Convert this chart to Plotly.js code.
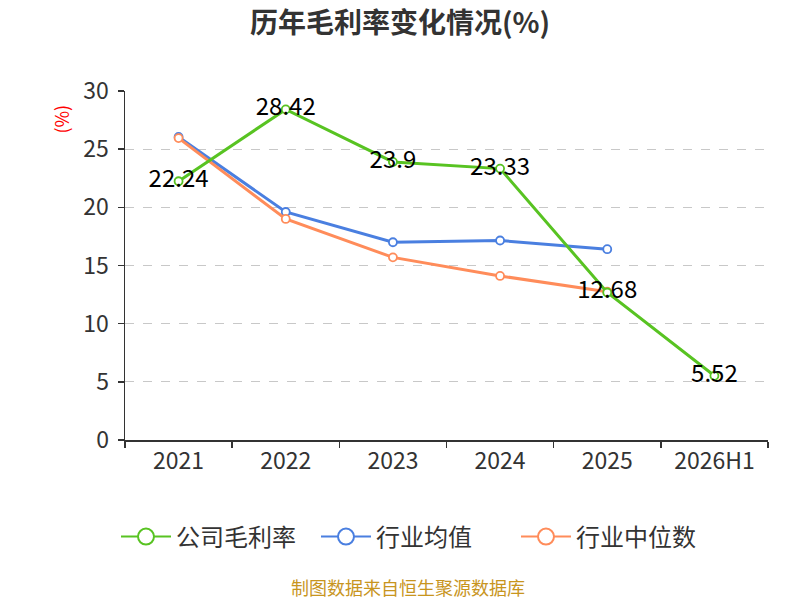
<!DOCTYPE html>
<html><head><meta charset="utf-8">
<script src="https://cdn.plot.ly/plotly-3.0.1.min.js"></script>
<style>html,body{margin:0;padding:0;background:#fff}#c{width:800px;height:600px}</style>
</head><body><div id="c"></div>
<script>
const categories = ["2021","2022","2023","2024","2025","2026H1"];
const companyGM = [22.24, 28.42, 23.9, 23.33, 12.68, 5.52];
const industryAvg = [26.05, 19.6, 17.0, 17.15, 16.4];
const industryMedian = [25.95, 19.0, 15.7, 14.1, 12.75];
const seriesNames = ["公司毛利率","行业均值","行业中位数"];
const colors = ['#58c322','#4a7fe0','#ff8c5a'];
const fontFam = '"Noto Sans CJK SC", "Noto Sans", sans-serif';

function tr(name, y, color, labels) {
  const t = {
    type:'scatter', mode: labels ? 'lines+markers+text' : 'lines+markers',
    name:name, x:categories.slice(0,y.length), y:y, showlegend:false,
    line:{color:color, width:3},
    marker:{symbol:'circle', size:8, color:'#fff', line:{color:color, width:1.8}},
    cliponaxis:false
  };
  if (labels) {
    t.text = y.map(v=>String(v));
    t.textposition = 'middle center';
    t.textfont = {family:fontFam, size:24, color:'#000'};
  }
  return t;
}
function legTr(name, color, rank) {
  return {type:'scatter', mode:'lines+markers', name:name, x:[null], y:[null], legendrank:rank,
    line:{color:color, width:2}, marker:{symbol:'circle', size:16, color:'#fff', line:{color:color, width:2}}};
}
const data = [
  tr(seriesNames[1], industryAvg, colors[1], false),
  tr(seriesNames[2], industryMedian, colors[2], false),
  tr(seriesNames[0], companyGM, colors[0], true),
  legTr(seriesNames[0], colors[0], 1),
  legTr(seriesNames[1], colors[1], 2),
  legTr(seriesNames[2], colors[2], 3)
];

const layout = {
  width:800, height:600,
  margin:{l:125, r:32, t:91, b:160},
  paper_bgcolor:'#fff', plot_bgcolor:'#fff',
  font:{family:fontFam, color:'#333'},
  title:{text:'<b>历年毛利率变化情况(%)</b>', x:0.5, xanchor:'center', y:0.962, yanchor:'middle',
         font:{family:fontFam, size:28, color:'#333'}},
  xaxis:{type:'category', range:[-0.5,5.5], tickson:'boundaries', ticks:'outside', ticklen:6,
         tickcolor:'#333', tickwidth:1.5, showline:true, linecolor:'#333', linewidth:1.5,
         showgrid:false, zeroline:false, tickfont:{size:23, color:'#333'}, fixedrange:true},
  yaxis:{range:[0,30], dtick:5, ticks:'outside', ticklen:6, tickcolor:'#333', tickwidth:1.5,
         showline:true, linecolor:'#333', linewidth:1.5, gridcolor:'#c8c8c8', griddash:'dash',
         gridwidth:1.2, zeroline:false, tickfont:{size:23, color:'#333'}, ticklabelstandoff:4},
  showlegend:true,
  legend:{orientation:'h', x:-0.014, xanchor:'left', y:-0.278, yanchor:'middle',
          font:{family:fontFam, size:24, color:'#333'}, itemwidth:50, entrywidth:135,
          traceorder:'normal'},
  annotations:[
    {text:'(%)', xref:'paper', yref:'paper', x:-0.1, y:0.92, showarrow:false, textangle:-90,
     font:{family:fontFam, size:18, color:'#ff0000'}, xanchor:'center', yanchor:'middle'},
    {text:'制图数据来自恒生聚源数据库', xref:'paper', yref:'paper', x:0.44, y:-0.422,
     xanchor:'center', yanchor:'middle', showarrow:false,
     font:{family:fontFam, size:18, color:'#c8951e'}}
  ]
};
Plotly.newPlot('c', data, layout, {displayModeBar:false, staticPlot:true});
</script></body></html>
